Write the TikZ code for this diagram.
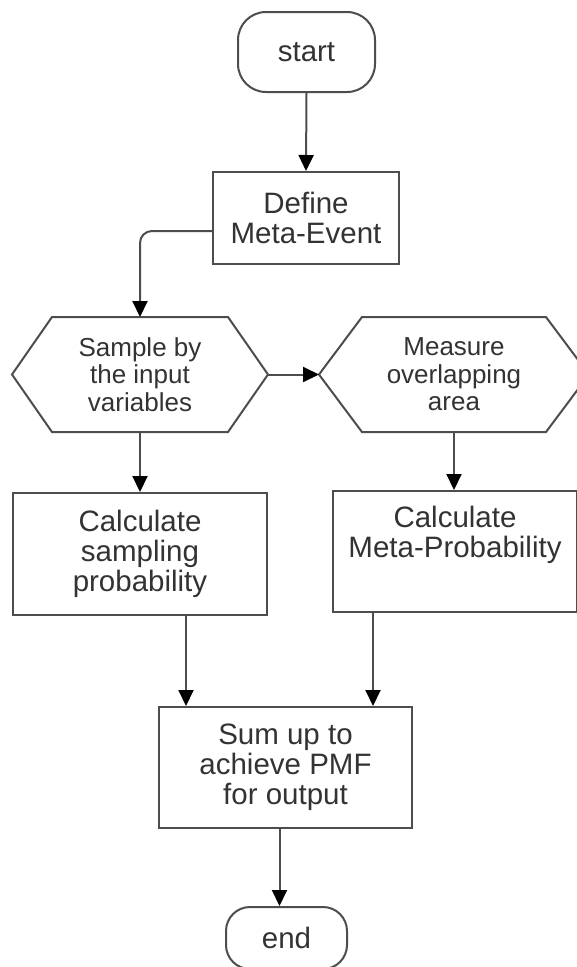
\documentclass[tikz,border=0pt]{standalone}
\usepackage{fontspec}
\setmainfont{Liberation Sans}
\usetikzlibrary{arrows.meta}
\definecolor{linegray}{HTML}{4D4D4D}
\definecolor{textgray}{HTML}{333333}
\tikzset{
  base/.style={draw=linegray, line width=2pt, text=textgray, align=center, inner sep=0pt,
    font=\fontsize{29.5}{30}\selectfont},
  boxnode/.style={base, rectangle},
  termnode/.style={base, rectangle, rounded corners=28pt},
  hexnode/.style={base, draw=none, rectangle, font=\fontsize{26}{27.5}\selectfont},
  hexline/.style={draw=linegray, line width=2pt, line join=miter},
  conn/.style={draw=linegray, line width=2pt, -{Triangle[length=16pt,width=15pt,color=black]}},
}
\begin{document}
\begin{tikzpicture}[x=1pt,y=-1pt]
\useasboundingbox (0,0) rectangle (577,967);
\clip (0,0) rectangle (577,967);
\fill[white] (0,0) rectangle (577,967);

\node[termnode, minimum width=137pt, minimum height=80pt] (start) at (306.5,52) {start};
\node[boxnode, minimum width=186pt, minimum height=92pt] (def) at (306,218) {Define\\Meta-Event};

\node[hexnode, minimum width=254pt, minimum height=113pt] (h1) at (140,374.5) {Sample by\\the input\\variables};
\draw[hexline] (h1.west) -- ([xshift=40pt]h1.north west) -- ([xshift=-40pt]h1.north east) -- (h1.east)
  -- ([xshift=-40pt]h1.south east) -- ([xshift=40pt]h1.south west) -- cycle;

\node[hexnode, minimum width=268pt, minimum height=113pt] (h2) at (454,374.5) {Measure\\overlapping\\area};
\draw[hexline] (h2.west) -- ([xshift=43pt]h2.north west) -- ([xshift=-43pt]h2.north east) -- (h2.east)
  -- ([xshift=-43pt]h2.south east) -- ([xshift=43pt]h2.south west) -- cycle;

\node[boxnode, minimum width=254pt, minimum height=122pt] (b1) at (140,554) {Calculate\\sampling\\probability};
\node[boxnode, minimum width=244pt, minimum height=121pt] (b2) at (455,551.5) {Calculate\\Meta-Probability\\\strut};
\node[boxnode, minimum width=253pt, minimum height=121pt] (sum) at (285.5,767.5) {Sum up to\\achieve PMF\\for output};
\node[termnode, rounded corners=24pt, minimum width=121pt, minimum height=62pt] (end) at (286.5,938) {end};

\draw[conn] (start.south) -- (def.north);
\draw[conn, rounded corners=12pt] ([yshift=-13pt]def.west) -| (h1.north);
\draw[conn] (h1.east) -- (h2.west);
\draw[conn] (h1.south) -- (h1.south |- b1.north);
\draw[conn] (h2.south) -- (h2.south |- b2.north);
\draw[conn] ([xshift=46pt]b1.south) -- ([xshift=46pt]b1.south |- sum.north);
\draw[conn] ([xshift=-82pt]b2.south) -- ([xshift=-82pt]b2.south |- sum.north);
\draw[conn] ([xshift=-6pt]sum.south) -- ([xshift=-6pt]sum.south |- end.north);
\end{tikzpicture}
\end{document}
